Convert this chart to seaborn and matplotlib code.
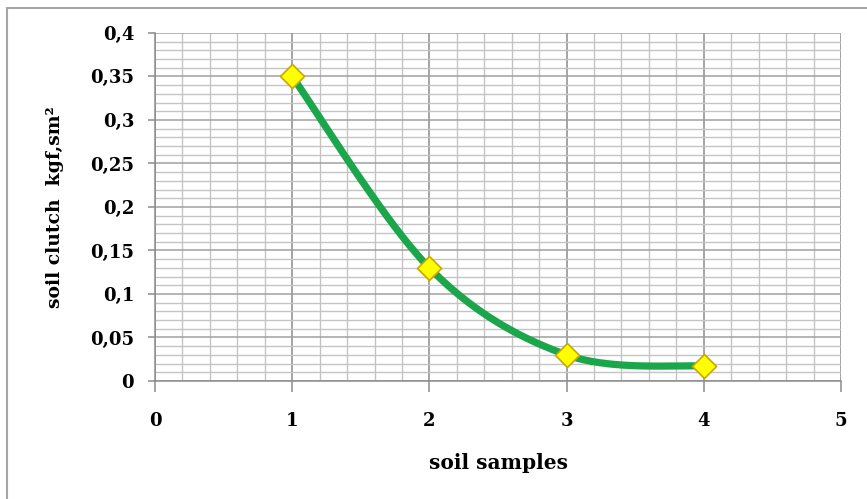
import numpy as np
import pandas as pd
import matplotlib
matplotlib.use("Agg")
import matplotlib.pyplot as plt
import seaborn as sns
from matplotlib.ticker import MultipleLocator, FuncFormatter
from matplotlib.patches import Rectangle

sns.set_style("white")
plt.rcParams['font.family'] = ['DejaVu Serif', 'Liberation Serif']
plt.rcParams['text.color'] = 'black'
plt.rcParams['axes.labelcolor'] = 'black'
plt.rcParams['xtick.labelcolor'] = 'black'
plt.rcParams['ytick.labelcolor'] = 'black'

# data
samples = [1, 2, 3, 4]
clutch = [0.35, 0.13, 0.03, 0.017]


def smooth(xs, ys, n=60):
    # Excel style smoothed line (cubic bezier through points)
    pts = np.column_stack([xs, ys]).astype(float)
    ext = np.vstack([pts[0], pts, pts[-1]])
    out = []
    for i in range(len(pts) - 1):
        p0, p3 = ext[i + 1], ext[i + 2]
        p1 = p0 + (ext[i + 2] - ext[i]) / 6
        p2 = p3 - (ext[i + 3] - ext[i + 1]) / 6
        t = np.linspace(0, 1, n)[:, None]
        seg = ((1 - t) ** 3) * p0 + 3 * ((1 - t) ** 2) * t * p1 + 3 * (1 - t) * t ** 2 * p2 + t ** 3 * p3
        out.append(seg)
    out = np.vstack(out)
    return out[:, 0], out[:, 1]


sx, sy = smooth(samples, clutch)
curve = pd.DataFrame({"x": sx, "y": sy})
df = pd.DataFrame({"samples": samples, "clutch": clutch})

fig = plt.figure(figsize=(8.67, 4.99), dpi=100)
ax = fig.add_axes([0.1788, 0.2365, 0.7912, 0.6974])

# outer chart frame
fig.patches.append(Rectangle((7 / 867, -0.2), 1.2, 1.2 - 7.5 / 499, transform=fig.transFigure,
                             fill=False, edgecolor="#a6a6a6", linewidth=1.5))

sns.lineplot(data=curve, x="x", y="y", sort=False, color="#1ca64b", linewidth=5.2,
             ax=ax, zorder=3, solid_capstyle="round")
sns.scatterplot(data=df, x="samples", y="clutch", marker="D", s=150, color="#ffff00",
                edgecolor="#c9a600", linewidth=1.2, ax=ax, zorder=4)

ax.set_xlim(0, 5)
ax.set_ylim(0, 0.4)
ax.xaxis.set_major_locator(MultipleLocator(1))
ax.xaxis.set_minor_locator(MultipleLocator(0.2))
ax.yaxis.set_major_locator(MultipleLocator(0.05))
ax.yaxis.set_minor_locator(MultipleLocator(0.01))
ax.yaxis.set_major_formatter(FuncFormatter(lambda v, p: ("%g" % round(v, 3)).replace(".", ",")))

ax.grid(True, which="major", axis="x", color="#8c8c8c", linewidth=1.1)
ax.grid(True, which="minor", axis="x", color="#c4c4c4", linewidth=1.0)
ax.grid(True, which="major", axis="y", color="#a0a0a0", linewidth=1.1)
ax.grid(True, which="minor", axis="y", color="#c4c4c4", linewidth=1.0)
ax.set_axisbelow(True)

for s in ["top", "right"]:
    ax.spines[s].set_visible(False)
for s in ["left", "bottom"]:
    ax.spines[s].set_color("#8c8c8c")
    ax.spines[s].set_linewidth(1.1)

ax.tick_params(axis="both", which="major", direction="out", width=1.1,
               color="#8c8c8c", labelsize=13)
ax.tick_params(axis="both", which="minor", length=0)
ax.tick_params(axis="x", which="major", bottom=True, length=8, pad=14)
ax.tick_params(axis="y", which="major", left=True, length=5, pad=10)
for lab in ax.get_xticklabels() + ax.get_yticklabels():
    lab.set_fontweight("bold")

ax.set_xlabel("soil samples", fontsize=14.5, fontweight="bold", labelpad=17)
ax.set_ylabel("soil clutch  kgf,sm²", fontsize=13.5, fontweight="bold", labelpad=19)

fig.savefig("out.png", dpi=100)
